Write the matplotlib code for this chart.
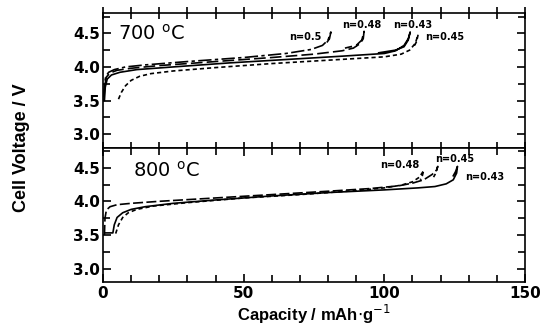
import matplotlib
matplotlib.use("Agg")
import matplotlib.pyplot as plt
from matplotlib.ticker import MultipleLocator

plt.rcParams['font.family'] = ['DejaVu Sans']

# ---- 700 C panel, capacity (mAh/g) and voltage (V) ----
cap_700_043 = [0.5, 0.8, 1.5, 3, 6, 12, 25, 45, 65, 85, 100, 104, 107, 108.5, 109.2, 108.5, 107, 104, 98]
v_700_043 = [3.5, 3.7, 3.82, 3.88, 3.92, 3.96, 4.0, 4.06, 4.11, 4.16, 4.2, 4.24, 4.32, 4.42, 4.52, 4.4, 4.3, 4.25, 4.21]

cap_700_045 = [5.5, 6.5, 8, 10, 13, 17, 25, 40, 60, 80, 100, 106, 109, 111, 112, 111.5, 110.5]
v_700_045 = [3.52, 3.62, 3.72, 3.8, 3.86, 3.9, 3.94, 3.99, 4.05, 4.1, 4.15, 4.19, 4.25, 4.35, 4.48, 4.38, 4.3]

cap_700_048 = [0.3, 0.6, 1.2, 2.5, 5, 10, 20, 40, 60, 75, 85, 89, 91.5, 92.5, 92.8, 92, 90, 86]
v_700_048 = [3.5, 3.72, 3.85, 3.91, 3.95, 3.98, 4.02, 4.08, 4.14, 4.19, 4.24, 4.28, 4.35, 4.42, 4.53, 4.4, 4.32, 4.28]

cap_700_050 = [0.2, 0.5, 1, 2, 4, 8, 15, 30, 50, 65, 74, 78, 80, 81, 80.5, 79.5]
v_700_050 = [3.55, 3.75, 3.86, 3.92, 3.96, 4.0, 4.03, 4.08, 4.14, 4.2, 4.26, 4.32, 4.4, 4.52, 4.42, 4.36]

# ---- 800 C panel ----
cap_800_043 = [1, 3.5, 4, 5, 7, 10, 15, 25, 40, 60, 80, 100, 112, 118, 122, 124.5, 125.7, 126, 125.3, 124.5]
v_800_043 = [3.53, 3.53, 3.65, 3.76, 3.83, 3.88, 3.92, 3.97, 4.02, 4.08, 4.13, 4.17, 4.2, 4.22, 4.26, 4.32, 4.42, 4.52, 4.44, 4.38]

cap_800_045 = [0.5, 0.7, 1.2, 2.5, 5, 10, 20, 40, 60, 80, 95, 105, 110, 114, 117, 118.5, 119, 118.3, 117.5]
v_800_045 = [3.5, 3.75, 3.87, 3.92, 3.95, 3.97, 4.0, 4.05, 4.1, 4.15, 4.19, 4.23, 4.27, 4.32, 4.4, 4.46, 4.52, 4.42, 4.36]

cap_800_048 = [4.5, 5.5, 7, 9, 12, 18, 30, 50, 70, 90, 100, 106, 110, 112.5, 114, 113.5, 112.8]
v_800_048 = [3.52, 3.65, 3.76, 3.83, 3.88, 3.93, 3.98, 4.05, 4.1, 4.16, 4.2, 4.24, 4.29, 4.36, 4.46, 4.38, 4.32]


def style_axis(ax):
    ax.set_xlim(0, 150)
    ax.set_ylim(2.8, 4.8)
    ax.xaxis.set_major_locator(MultipleLocator(50))
    ax.xaxis.set_minor_locator(MultipleLocator(10))
    ax.yaxis.set_major_locator(MultipleLocator(0.5))
    ax.yaxis.set_minor_locator(MultipleLocator(0.25))
    ax.tick_params(which='both', direction='in', top=True, right=True, width=1.2)
    ax.tick_params(which='major', length=6)
    ax.tick_params(which='minor', length=5)
    ax.tick_params(axis='y', labelsize=11, pad=2)
    ax.tick_params(axis='x', labelsize=11, pad=3)
    ax.yaxis.set_major_formatter(plt.FormatStrFormatter('%.1f'))
    for lab in ax.get_xticklabels() + ax.get_yticklabels():
        lab.set_fontweight('bold')
    for s in ax.spines.values():
        s.set_linewidth(1.2)


fig, (ax1, ax2) = plt.subplots(2, 1, figsize=(5.48, 3.29), dpi=100, sharex=True)
fig.subplots_adjust(left=0.188, right=0.958, top=0.960, bottom=0.143, hspace=0)

lw = 1.2
ax1.plot(cap_700_043, v_700_043, color='black', lw=lw)
ax1.plot(cap_700_045, v_700_045, color='black', lw=lw, dashes=(2.5, 1.8))
ax1.plot(cap_700_048, v_700_048, color='black', lw=lw, dashes=(7, 2.5))
ax1.plot(cap_700_050, v_700_050, color='black', lw=lw, dashes=(8, 2, 2, 2))

ax2.plot(cap_800_043, v_800_043, color='black', lw=lw)
ax2.plot(cap_800_045, v_800_045, color='black', lw=lw, dashes=(6, 2))
ax2.plot(cap_800_048, v_800_048, color='black', lw=lw, dashes=(2.5, 1.8))

ax1.text(5.5, 4.5, '700 $^{\\mathrm{o}}$C', fontsize=14, va='center', ha='left')
ax2.text(10.5, 4.45, '800 $^{\\mathrm{o}}$C', fontsize=14, va='center', ha='left')

lab_kw = dict(fontsize=7, fontweight='bold', va='center', ha='left')
ax1.text(66, 4.45, 'n=0.5', **lab_kw)
ax1.text(85, 4.63, 'n=0.48', **lab_kw)
ax1.text(103, 4.63, 'n=0.43', **lab_kw)
ax1.text(114.5, 4.44, 'n=0.45', **lab_kw)
ax2.text(98.5, 4.54, 'n=0.48', **lab_kw)
ax2.text(118, 4.63, 'n=0.45', **lab_kw)
ax2.text(128.7, 4.36, 'n=0.43', **lab_kw)

style_axis(ax1)
style_axis(ax2)
ax1.tick_params(axis='x', which='both', bottom=True, direction='inout', length=8)
ax1.tick_params(axis='x', which='both', top=True)

ax2.set_xlabel('Capacity / mAh$\\cdot$g$^{-1}$', fontsize=12, fontweight='bold', labelpad=1,
               family='Liberation Sans')
fig.text(0.04, 0.55, 'Cell Voltage / V', rotation=90, fontsize=13, fontweight='bold',
         va='center', ha='center', family='Liberation Sans')

fig.savefig('out.png', dpi=100)
